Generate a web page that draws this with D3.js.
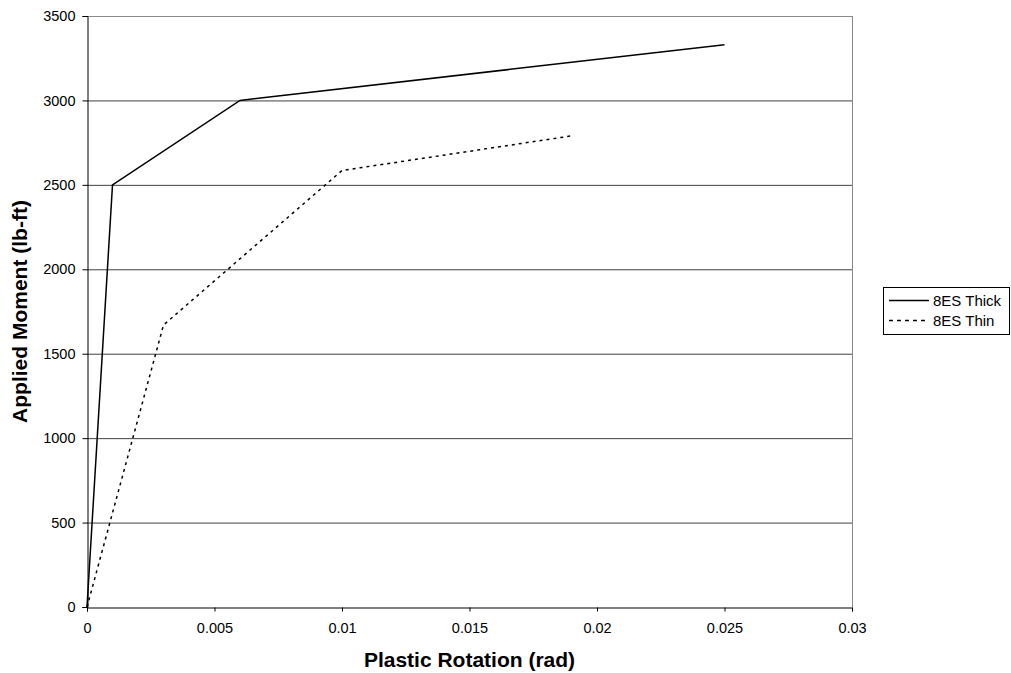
<!DOCTYPE html>
<html><head><meta charset="utf-8">
<script src="https://cdn.jsdelivr.net/npm/d3@7"></script>
<style>body{margin:0;background:#fff}svg{display:block}text{font-family:"Liberation Sans",Arial,sans-serif}</style>
</head><body>
<svg id="c" width="1011" height="673"></svg>
<script>
const thickX = [0, 0.001, 0.006, 0.025];
const thickY = [0, 2500, 3000, 3330];
const thinX = [0, 0.003, 0.010, 0.019];
const thinY = [0, 1670, 2585, 2790];
const seriesNames = ["8ES Thick", "8ES Thin"];
const xTicks = [0, 0.005, 0.01, 0.015, 0.02, 0.025, 0.03];
const yTicks = [0, 500, 1000, 1500, 2000, 2500, 3000, 3500];

const svg = d3.select("#c");
const L = 87, R = 852, T = 16, B = 607;
const x = d3.scaleLinear().domain([0, 0.03]).range([L, R]);
const y = d3.scaleLinear().domain([0, 3500]).range([B, T]);

// gridlines
svg.append("g").selectAll("line").data(yTicks.filter(d => d > 0)).join("line")
  .attr("x1", L).attr("x2", R).attr("y1", d => y(d) + 0.5).attr("y2", d => y(d) + 0.5)
  .attr("stroke", d => d === 3500 ? "#8a8a8a" : "#404040").attr("stroke-width", 1);
// right border
svg.append("line").attr("x1", R + 0.5).attr("x2", R + 0.5).attr("y1", T).attr("y2", B)
  .attr("stroke", "#8a8a8a");

// axes
const xa = svg.append("g").attr("transform", `translate(0,${B + 0.5})`)
  .call(d3.axisBottom(x).tickValues(xTicks).tickFormat(d => String(+d.toFixed(3))).tickSize(4).tickPadding(11));
const ya = svg.append("g").attr("transform", `translate(${L + 0.5},0)`)
  .call(d3.axisLeft(y).tickValues(yTicks).tickFormat(d3.format("d")).tickSize(5).tickPadding(7));
[xa, ya].forEach(g => {
  g.select(".domain").attr("stroke", "#000");
  g.selectAll(".tick line").attr("stroke", "#000");
  g.selectAll("text").attr("font-size", 14.5).attr("fill", "#000")
    .attr("font-family", '"Liberation Sans",Arial,sans-serif');
});

const line = d3.line().x(d => x(d[0])).y(d => y(d[1]));
const thick = thickX.map((v, i) => [v, thickY[i]]);
const thin = thinX.map((v, i) => [v, thinY[i]]);
svg.append("path").datum(thick).attr("d", line).attr("fill", "none")
  .attr("stroke", "#000").attr("stroke-width", 1.5);
svg.append("path").datum(thin).attr("d", line).attr("fill", "none")
  .attr("stroke", "#000").attr("stroke-width", 1.5).attr("stroke-dasharray", "3,4");

// titles
svg.append("text").attr("x", (L + R) / 2).attr("y", 667).attr("text-anchor", "middle")
  .attr("font-size", 21).attr("font-weight", "bold").text("Plastic Rotation (rad)");
svg.append("text").attr("transform", `translate(27,${(T + B) / 2}) rotate(-90)`)
  .attr("text-anchor", "middle").attr("font-size", 21).attr("font-weight", "bold")
  .text("Applied Moment (lb-ft)");

// legend
const lg = svg.append("g");
lg.append("rect").attr("x", 883.5).attr("y", 287.5).attr("width", 126).attr("height", 47)
  .attr("fill", "#fff").attr("stroke", "#000");
seriesNames.forEach((n, i) => {
  const cy = 300.5 + i * 20;
  lg.append("line").attr("x1", 889).attr("x2", 929).attr("y1", cy).attr("y2", cy)
    .attr("stroke", "#000").attr("stroke-width", 1.5)
    .attr("stroke-dasharray", i === 1 ? "4,4" : null);
  lg.append("text").attr("x", 933).attr("y", 306 + i * 19.5).attr("font-size", 15).text(n);
});
</script>
</body></html>
